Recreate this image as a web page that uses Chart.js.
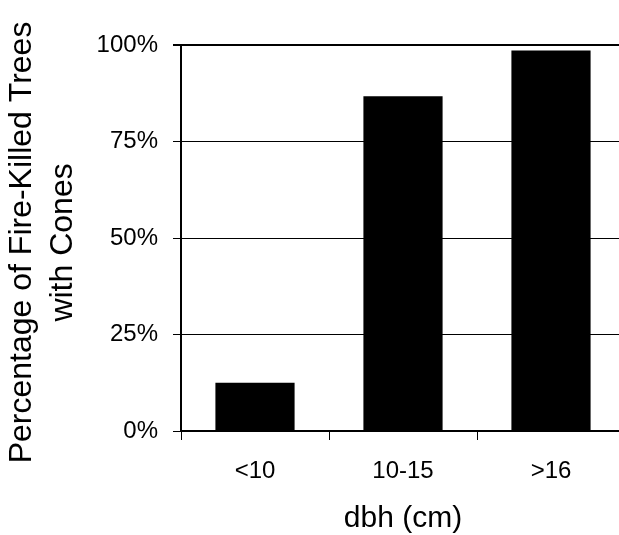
<!DOCTYPE html>
<html><head><meta charset="utf-8">
<script src="https://cdn.jsdelivr.net/npm/chart.js@4/dist/chart.umd.min.js"></script>
<style>
html,body{margin:0;padding:0;background:#fff;overflow:hidden;}
#wrap{width:619px;height:535px;overflow:hidden;position:relative;}
#box{position:absolute;left:0;top:0;width:640px;height:535px;}
</style></head>
<body>
<div id="wrap"><div id="box"><canvas id="c" width="640" height="535"></canvas></div></div>
<script>
const categories = ['<10', '10-15', '>16'];
const percentWithCones = [12.5, 86.7, 98.6];
const yTicks = [0, 25, 50, 75, 100];
const xTitle = 'dbh (cm)';
const yTitle = ['Percentage of Fire-Killed Trees\u00A0', 'with Cones\u00A0'];

const FONT = "'Liberation Sans', Arial, sans-serif";
new Chart(document.getElementById('c'), {
  type: 'bar',
  data: {
    labels: categories,
    datasets: [{
      data: percentWithCones,
      backgroundColor: '#000',
      borderWidth: 0,
      categoryPercentage: 1,
      barPercentage: 0.535
    }]
  },
  options: {
    responsive: false,
    animation: false,
    devicePixelRatio: 1,
    plugins: { legend: { display: false }, tooltip: { enabled: false } },
    layout: { padding: { left: 0, right: 15, top: 45, bottom: 0 } },
    scales: {
      x: {
        afterFit: s => { s.height = 104; },
        grid: { drawOnChartArea: false, color: '#000', tickLength: 9, lineWidth: 1, offset: true },
        border: { color: '#000', width: 2 },
        ticks: { color: '#000', font: { family: FONT, size: 24 }, padding: 17 },
        title: { display: true, text: xTitle, color: '#000', font: { family: FONT, size: 30, lineHeight: 1.1 }, padding: { top: 0, bottom: 0 } }
      },
      y: {
        min: 0, max: 100,
        afterBuildTicks: s => { s.ticks = yTicks.map(v => ({ value: v })); },
        afterFit: s => { s.width = 181; },
        grid: { color: '#000', lineWidth: ctx => (ctx.tick && ctx.tick.value === 100 ? 2 : 1), tickLength: 8 },
        border: { color: '#000', width: 2 },
        ticks: { color: '#000', font: { family: FONT, size: 24 }, padding: 15, callback: v => v + '%' },
        title: { display: true, text: yTitle, color: '#000', font: { family: FONT, size: 32, lineHeight: 1.3 }, padding: { top: 1, bottom: 0 } }
      }
    }
  }
});
</script>
</body></html>
